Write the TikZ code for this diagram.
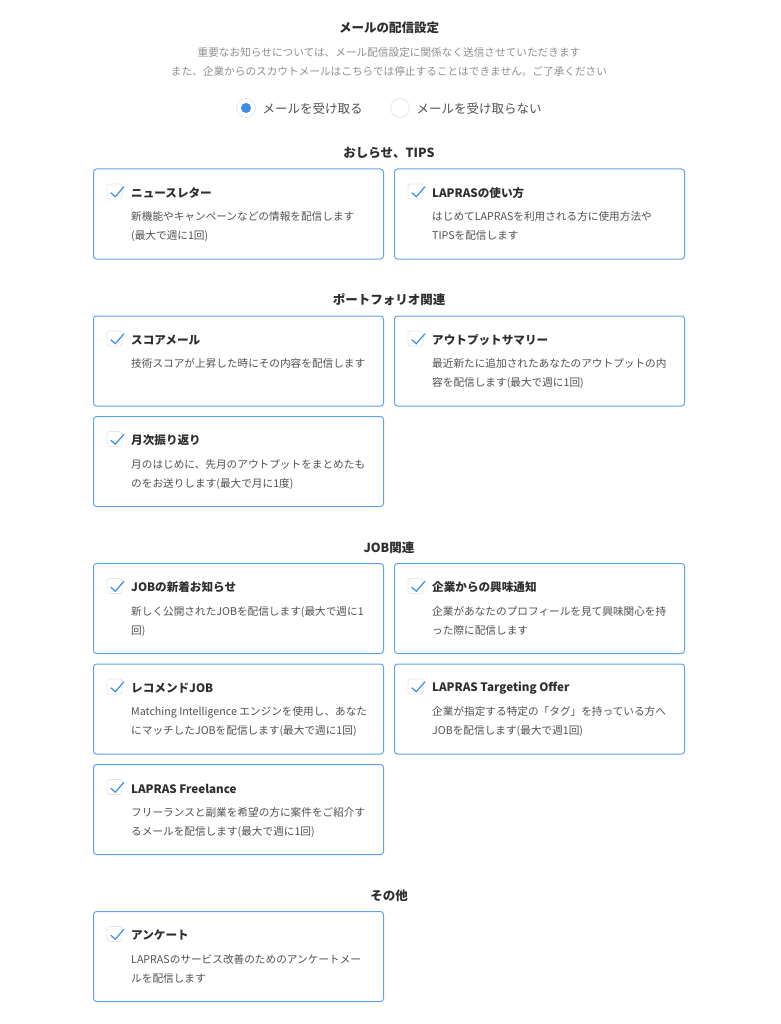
\documentclass[tikz,border=0pt]{standalone}
\usepackage{fontspec}
\setmainfont{Noto Sans CJK JP}
\usetikzlibrary{positioning}
\definecolor{mainblue}{HTML}{3B8FE3}
\definecolor{cardblue}{HTML}{5FA3E8}
\definecolor{inkdark}{HTML}{2E2E2E}
\definecolor{inkbody}{HTML}{505050}
\definecolor{inkgray}{HTML}{8E8E8E}
\definecolor{edgegray}{HTML}{E6E6E6}

\begin{document}
\begin{tikzpicture}[x=1pt,y=-1pt,
	card/.style={rectangle,draw=cardblue,line width=1pt,rounded corners=3pt,minimum width=290pt,minimum height=90pt,inner sep=0pt,outer sep=0pt,anchor=north west},
	chkbox/.style={rectangle,draw=edgegray,line width=.8pt,rounded corners=2.5pt,minimum size=15pt,inner sep=0pt,outer sep=0pt,anchor=center},
	chkmark/.style={draw=mainblue,line width=1.2pt},
	ttl/.style={inner sep=0pt,anchor=west,yshift=-1.5pt,text=inkdark,font=\fontsize{11.6}{14}\selectfont\bfseries},
	bodytxt/.style={inner sep=0pt,anchor=north west,align=left,text=inkbody,font=\fontsize{10.65}{19}\selectfont},
	heading/.style={inner sep=0pt,text=inkdark,font=\fontsize{12.5}{15}\selectfont\bfseries},
	notice/.style={inner sep=0pt,text=inkgray,font=\fontsize{10.65}{19}\selectfont},
	radio/.style={circle,draw=edgegray,line width=.8pt,fill=white,minimum size=19pt,inner sep=0pt},
	radiotxt/.style={inner sep=0pt,anchor=west,yshift=-.5pt,text=inkbody,font=\fontsize{12.5}{15}\selectfont}]
	\useasboundingbox (0,0) rectangle (780,1024);

	\node[heading] (mailttl) at (389,28) {メールの配信設定};
	\node[notice] (note1) at (389,52.5) {重要なお知らせについては、メール配信設定に関係なく送信させていただきます};
	\node[notice] (note2) at (389,71.5) {また、企業からのスカウトメールはこちらでは停止することはできません。ご了承ください};
	\node[radio] (radioon) at (246,108) {};
	\fill[mainblue] (radioon.center) circle (5pt);
	\node[radiotxt] (radioontxt)[right = 6.5pt of radioon] {メールを受け取る};
	\node[radio] (radiooff) at (400,108) {};
	\node[radiotxt] (radioofftxt)[right = 6.5pt of radiooff] {メールを受け取らない};

	% sections
	\node[heading] (secnews) at (389,153) {おしらせ、TIPS};
	\node[heading] (secport) at (389,300) {ポートフォリオ関連};
	\node[heading] (secjob) at (389,547.5) {JOB関連};
	\node[heading] (secetc) at (389,895.5) {その他};

	% cards
	\node[card] (news) at (93.5,169) {};
	\node[card] (howto)[right = 11pt of news.north east,anchor=north west] {};
	\node[card] (score) at (93.5,316) {};
	\node[card] (output)[right = 11pt of score.north east,anchor=north west] {};
	\node[card] (monthly)[below = 10.5pt of score.south west,anchor=north west] {};
	\node[card] (jobnew) at (93.5,563.5) {};
	\node[card] (interest)[right = 11pt of jobnew.north east,anchor=north west] {};
	\node[card] (recjob)[below = 10.5pt of jobnew.south west,anchor=north west] {};
	\node[card] (target)[right = 11pt of recjob.north east,anchor=north west] {};
	\node[card] (free)[below = 10.5pt of recjob.south west,anchor=north west] {};
	\node[card] (survey) at (93.5,911.5) {};

	% check boxes
	\foreach \cardname in {news,howto,score,output,monthly,jobnew,interest,recjob,target,free,survey}{
		\node[chkbox] (\cardname chk) at ([xshift=21pt,yshift=-22.5pt]\cardname.north west) {};
		\draw[chkmark] ([shift={(-3.8pt,-1.2pt)}]\cardname chk.center) -- ([shift={(.8pt,-5.2pt)}]\cardname chk.center) -- ([shift={(9.5pt,4.8pt)}]\cardname chk.center);
	}

	% titles
	\node[ttl] (newsttl)[right = 9pt of newschk] {ニュースレター};
	\node[ttl] (howtottl)[right = 9pt of howtochk] {LAPRASの使い方};
	\node[ttl] (scorettl)[right = 9pt of scorechk] {スコアメール};
	\node[ttl] (outputttl)[right = 9pt of outputchk] {アウトプットサマリー};
	\node[ttl] (monthlyttl)[right = 9pt of monthlychk] {月次振り返り};
	\node[ttl] (jobnewttl)[right = 9pt of jobnewchk] {JOBの新着お知らせ};
	\node[ttl] (interestttl)[right = 9pt of interestchk] {企業からの興味通知};
	\node[ttl] (recjobttl)[right = 9pt of recjobchk] {レコメンドJOB};
	\node[ttl] (targetttl)[right = 9pt of targetchk] {LAPRAS Targeting Offer};
	\node[ttl] (freettl)[right = 9pt of freechk] {LAPRAS Freelance};
	\node[ttl] (surveyttl)[right = 9pt of surveychk] {アンケート};

	% body texts
	\node[bodytxt] (newstxt)[below = 18.5pt of newsttl.west,anchor=north west] {新機能やキャンペーンなどの情報を配信します\\(最大で週に1回)};
	\node[bodytxt] (howtotxt)[below = 18.5pt of howtottl.west,anchor=north west] {はじめてLAPRASを利用される方に使用方法や\\TIPSを配信します};
	\node[bodytxt] (scoretxt)[below = 18.5pt of scorettl.west,anchor=north west] {技術スコアが上昇した時にその内容を配信します};
	\node[bodytxt] (outputtxt)[below = 18.5pt of outputttl.west,anchor=north west] {最近新たに追加されたあなたのアウトプットの内\\容を配信します(最大で週に1回)};
	\node[bodytxt] (monthlytxt)[below = 18.5pt of monthlyttl.west,anchor=north west] {月のはじめに、先月のアウトプットをまとめたも\\のをお送りします(最大で月に1度)};
	\node[bodytxt] (jobnewtxt)[below = 18.5pt of jobnewttl.west,anchor=north west] {新しく公開されたJOBを配信します(最大で週に1\\回)};
	\node[bodytxt] (interesttxt)[below = 18.5pt of interestttl.west,anchor=north west] {企業があなたのプロフィールを見て興味関心を持\\った際に配信します};
	\node[bodytxt] (recjobtxt)[below = 18.5pt of recjobttl.west,anchor=north west] {Matching Intelligence エンジンを使用し、あなた\\にマッチしたJOBを配信します(最大で週に1回)};
	\node[bodytxt] (targettxt)[below = 18.5pt of targetttl.west,anchor=north west] {企業が指定する特定の「タグ」を持っている方へ\\JOBを配信します(最大で週1回)};
	\node[bodytxt] (freetxt)[below = 18.5pt of freettl.west,anchor=north west] {フリーランスと副業を希望の方に案件をご紹介す\\るメールを配信します(最大で週に1回)};
	\node[bodytxt] (surveytxt)[below = 18.5pt of surveyttl.west,anchor=north west] {LAPRASのサービス改善のためのアンケートメー\\ルを配信します};
\end{tikzpicture}
\end{document}
